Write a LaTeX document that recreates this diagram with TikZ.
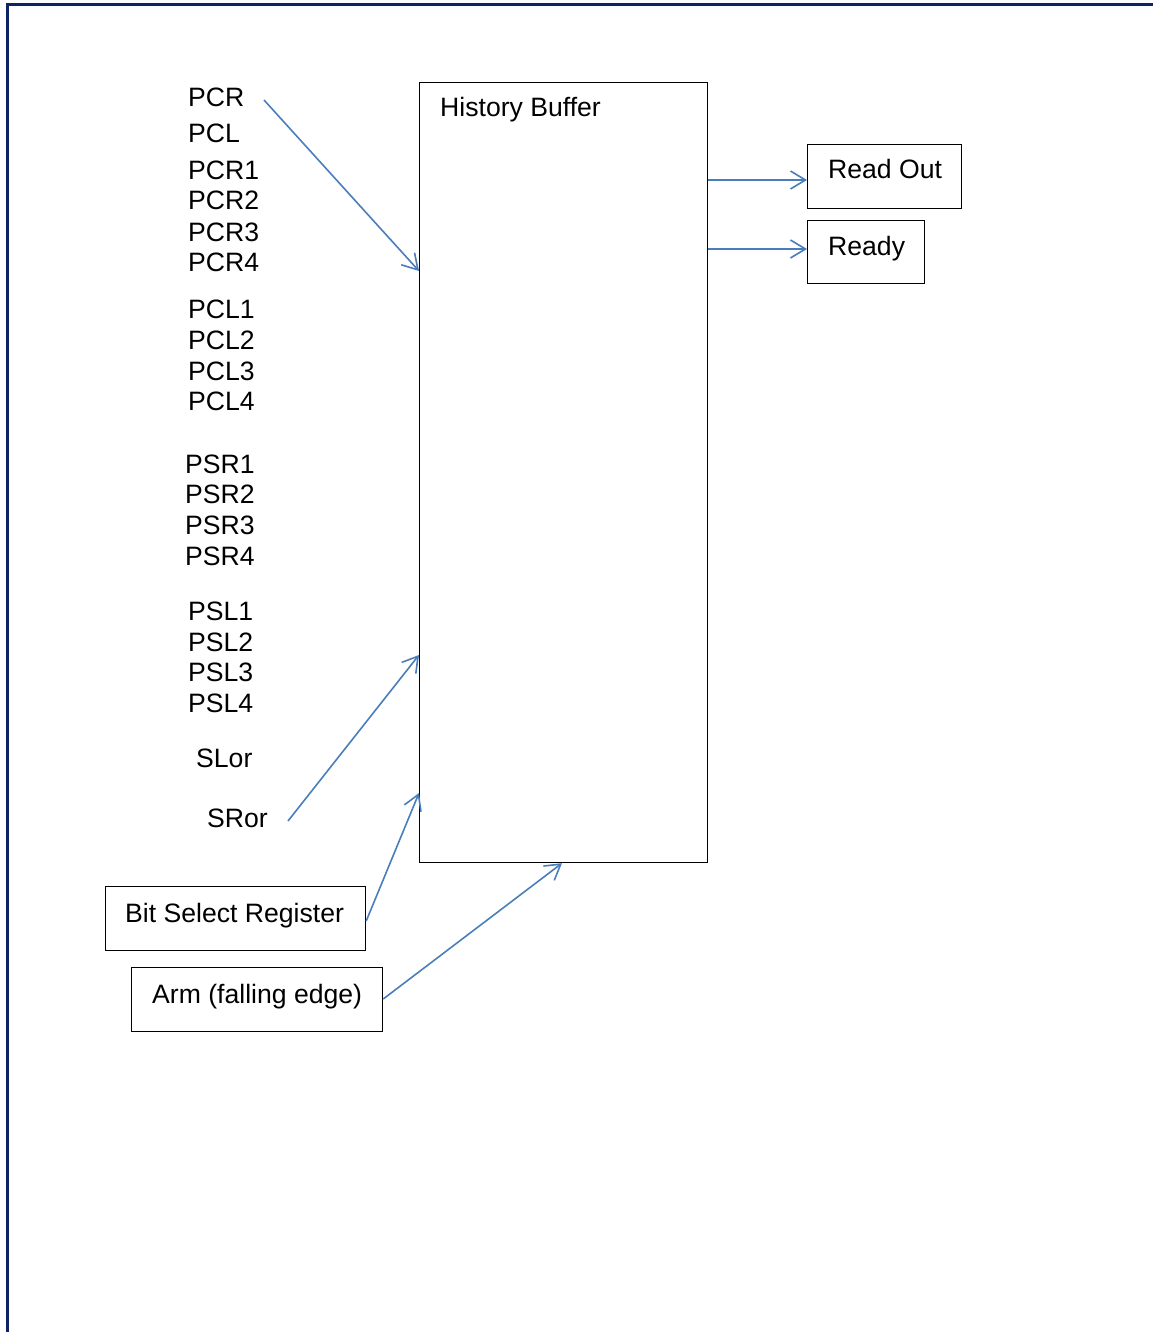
\documentclass[tikz,border=0pt]{standalone}
\usepackage{fontspec}
\setmainfont{Liberation Sans}
\usetikzlibrary{arrows.meta,calc}
\definecolor{framecol}{RGB}{14,36,100}
\definecolor{arrcol}{RGB}{74,126,187}
\tikzset{
  lbl/.style={anchor=base west,inner sep=0pt,font=\fontsize{26.6}{30}\selectfont},
  boxn/.style={draw=black,line width=1.2pt,anchor=north west,inner sep=0pt},
  conn/.style={draw=arrcol,line width=1.6pt,-{Straight Barb[length=15pt,width=18pt,line width=1.6pt]}}
}
\begin{document}
\begin{tikzpicture}[x=1pt,y=-1pt]
\useasboundingbox (0,0) rectangle (1152,1332);
\draw[framecol,line width=3pt] (7,1340) -- (7,5) -- (1160,5);
% history buffer
\node[boxn,minimum width=288pt,minimum height=780pt] (hb) at (419,82) {};
\node[lbl] (hbt) at (440,117) {History Buffer};
% outputs
\node[boxn,minimum width=154pt,minimum height=64pt] (ro) at (807,144) {};
\node[lbl] (rot) at (828,179) {Read Out};
\node[boxn,minimum width=117pt,minimum height=63pt] (rd) at (807,220) {};
\node[lbl] (rdt) at (828,255) {Ready};
% inputs
\node[lbl] (pcr) at (188,107) {PCR};
\node[lbl] (pcl) at (188,143) {PCL};
\node[lbl] (pcra) at (188,180) {PCR1};
\node[lbl] (pcrb) at (188,210) {PCR2};
\node[lbl] (pcrc) at (188,241) {PCR3};
\node[lbl] (pcrd) at (188,271) {PCR4};
\node[lbl] (pcla) at (188,318) {PCL1};
\node[lbl] (pclb) at (188,349) {PCL2};
\node[lbl] (pclc) at (188,380) {PCL3};
\node[lbl] (pcld) at (188,410) {PCL4};
\node[lbl] (psra) at (185,473) {PSR1};
\node[lbl] (psrb) at (185,503) {PSR2};
\node[lbl] (psrc) at (185,534) {PSR3};
\node[lbl] (psrd) at (185,565) {PSR4};
\node[lbl] (psla) at (188,620) {PSL1};
\node[lbl] (pslb) at (188,651) {PSL2};
\node[lbl] (pslc) at (188,681) {PSL3};
\node[lbl] (psld) at (188,712) {PSL4};
\node[lbl] (slor) at (196,767) {SLor};
\node[lbl] (sror) at (207,827) {SRor};
% lower boxes
\node[boxn,minimum width=260pt,minimum height=64pt] (bsr) at (105,886) {};
\node[lbl] (bsrt) at (125,922) {Bit Select Register};
\node[boxn,minimum width=251pt,minimum height=64pt] (arm) at (131,967) {};
\node[lbl] (armt) at (152,1003) {Arm (falling edge)};
% connection points
\coordinate (c1) at (264,100);
\coordinate (c2) at (288,821);
\coordinate (h1) at ($(hb.north west)+(0,189)$);
\coordinate (h2) at ($(hb.north west)+(0,573)$);
\coordinate (h3) at ($(hb.north west)+(0,711)$);
\coordinate (h4) at ($(hb.south west)+(143,0)$);
\coordinate (o1) at ($(hb.north east)+(0,98)$);
\coordinate (o2) at ($(hb.north east)+(0,167)$);
% connectors
\draw[conn] (c1) -- (h1);
\draw[conn] (c2) -- (h2);
\draw[conn] ($(bsr.north east)+(0,35)$) -- (h3);
\draw[conn] ($(arm.north east)+(0,32)$) -- (h4);
\draw[conn] (o1) -- (o1 -| ro.west);
\draw[conn] (o2) -- (o2 -| rd.west);
\end{tikzpicture}
\end{document}
